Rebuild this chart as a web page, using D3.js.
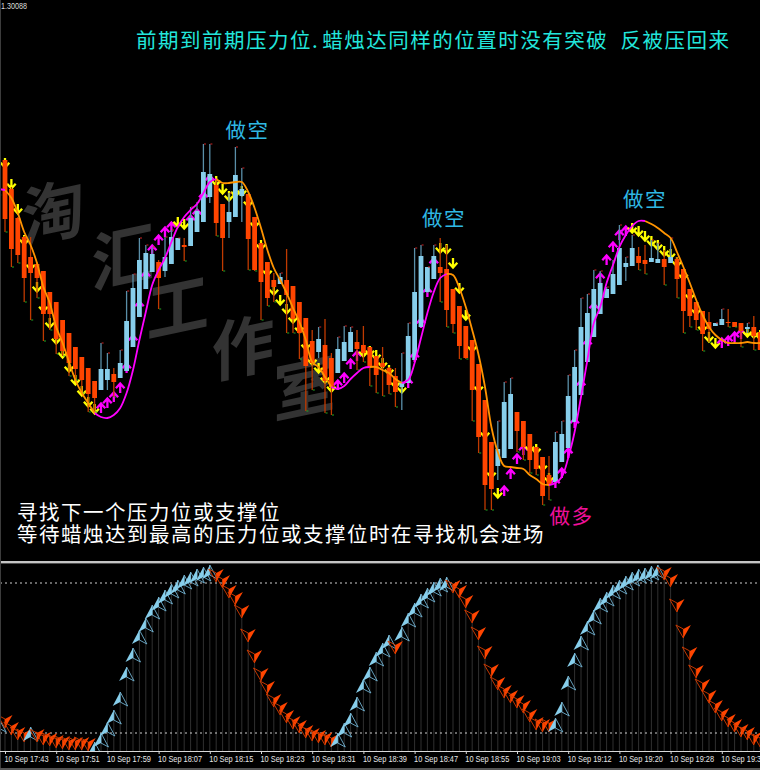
<!DOCTYPE html>
<html><head><meta charset="utf-8">
<script src="https://cdnjs.cloudflare.com/ajax/libs/d3/7.8.5/d3.min.js"></script>
<style>html,body{margin:0;padding:0;background:#000}svg{display:block}</style>
</head><body><svg id="c" width="760" height="770"></svg>
<script>
// Prices are points above 1.29000; bars run from -1 (cut by the left edge) to 118.
const firstBar = -1;
const opens = [950,933,904,875,856,836,829,822,801,791,773,760,746,736,725,712,703,713,719,715,722,746,776,804,821,831,822,829,843,848,847,861,871,896,908,889,871,876,897,899,876,850,831,813,809,813,807,791,775,752,741,748,735,720,732,741,751,748,746,737,730,725,717,706,710,733,766,801,814,826,824,804,787,767,753,729,693,651,627,635,644,681,672,659,646,636,618,611,631,645,671,698,731,756,779,795,799,808,826,827,837,833,831,830,834,830,834,824,804,791,782,771,767,768,771,771,770,764,766,761];
const closes = [913,874,844,838,815,820,815,779,779,754,742,730,724,713,699,695,724,724,711,730,772,805,833,840,839,815,836,856,855,846,875,882,921,919,870,855,881,918,904,854,823,811,795,806,816,798,774,760,727,730,754,712,706,744,751,761,744,740,726,718,726,708,701,711,757,801,837,826,837,820,783,769,747,735,703,656,608,604,644,691,699,662,646,633,624,597,608,651,659,697,726,766,780,804,810,804,819,845,830,845,830,829,835,834,826,836,814,782,777,773,759,764,770,774,770,766,762,766,757,743];
const highs = [951,933,906,876,857,856,831,822,801,791,773,760,746,736,725,712,750,740,725,743,802,819,855,848,846,833,856,863,855,855,886,891,949,949,913,889,900,946,925,899,876,850,831,820,820,844,807,791,775,763,766,774,740,756,767,766,763,767,746,737,746,726,725,740,770,845,848,826,848,855,848,804,787,767,753,729,693,651,672,711,715,681,672,659,646,636,637,661,672,718,743,795,799,823,822,806,833,868,836,858,846,848,853,850,843,855,836,824,804,791,782,781,770,784,784,771,770,770,777,761];
const lows = [898,861,826,830,791,773,795,752,763,739,737,717,713,700,681,681,703,703,696,715,722,746,776,804,821,784,816,829,843,832,847,861,871,890,857,822,855,876,871,823,822,773,787,791,809,760,760,734,682,703,735,680,678,720,732,741,723,731,707,700,697,699,686,683,710,733,766,800,814,791,766,760,734,734,672,640,583,583,613,635,644,641,633,620,618,588,593,611,631,645,671,698,731,756,779,795,799,808,812,827,823,819,831,830,808,830,795,760,766,763,742,751,767,768,766,766,746,760,743,743];

const trendLine = [904,903,895,880,861,848,830,806,790,766,750,731,713,700,690,680,676,675,678,685,700,723,753,781,808,823,835,851,866,876,883,889,900,911,914,910,910,911,911,901,885,865,843,825,813,800,785,771,753,731,726,716,706,704,707,714,720,725,726,726,723,720,714,710,713,730,755,780,801,815,819,818,805,786,763,738,706,666,641,627,626,625,624,618,614,609,608,610,616,635,661,696,733,770,786,810,828,846,858,867,872,872,869,865,860,855,841,826,810,793,778,766,758,753,750,750,750,751,750,750];
const trendUpRuns = [[-1,0],[14,33],[51,57],[62,69],[85,100]];
const trendDownRuns = [[0,14],[33,51],[57,62],[69,85],[100,118]];

// Signal arrows start at bar 0.
const signalPrice = [930,909,884,853,828,806,786,770,754,740,726,713,702,691,684,685,690,696,705,725,753,787,817,843,853,861,866,871,869,873,879,896,913,912,904,897,901,902,891,870,848,822,803,793,784,775,765,748,733,725,715,706,708,715,729,737,741,742,738,730,723,710,705,710,736,770,801,830,845,844,830,805,778,746,706,660,620,600,602,619,634,643,646,644,627,615,610,620,640,670,708,749,785,815,833,846,858,862,865,862,857,852,848,842,839,831,818,798,783,766,756,750,750,752,756,759,761,760,758];
const signalUpRuns = [[15,26],[29,32],[52,55],[63,67],[78,81],[86,97],[112,115]];

// Oscillator, from bar -1.
const oscillator = [26,22,19.2,17.2,16.4,22.4,16.4,15.2,14.8,14,13.6,13.2,13.2,13.2,12.8,16.4,20,24.4,29.2,36.4,46.4,54,61.2,66,71.2,74.4,77.2,79.6,81.2,83.2,84.4,85.6,86.4,87.2,80.4,78,74,71.2,66,56.4,48,40.8,35.6,30.4,27.2,24,21.6,20,18,16.8,16,15.2,14.4,20,24,28,34.4,41.6,46.4,52.4,56,59.2,51.6,62.4,68,72,75.6,78,80.4,82,82.4,76,74,70,64,57.2,49.6,42.4,37.2,34,32,30,28,24.4,21.2,20.4,20.4,26,32.4,42.8,52,58.8,64.8,69.2,74,76.4,79.2,81.2,82.8,84.4,85.6,86,86.8,87.2,81.2,78.4,68.4,58,49.2,42,36.4,32,28,24.8,22.4,20.4,18.4,17.2,15.2,14.4];
const oscUpRuns = [[-1,-1],[4,4],[14,32],[52,60],[62,69],[86,102]];
const oscLevels = [80,20];

const tickBars = [0,8,16,24,32,40,48,56,64,72,80,88,96,104,112];
const tickLabels = ["10 Sep 17:43","10 Sep 17:51","10 Sep 17:59","10 Sep 18:07","10 Sep 18:15","10 Sep 18:23","10 Sep 18:31","10 Sep 18:39","10 Sep 18:47","10 Sep 18:55","10 Sep 19:03","10 Sep 19:12","10 Sep 19:20","10 Sep 19:28","10 Sep 19:36"];
const topPriceLabel = "1.30088";
const headlineParts = ["前期到前期压力位.","蜡烛达同样的位置时没有突破  反被压回来"];
const noteLines = ["寻找下一个压力位或支撑位","等待蜡烛达到最高的压力位或支撑位时在寻找机会进场"];
const shortLabels = [{bar:37.9,price:955,text:"做空"},{bar:68.6,price:867,text:"做空"},{bar:100,price:886,text:"做空"}];
const longLabels = [{bar:88.5,price:569,text:"做多"}];
const watermark = ["淘","汇","工","作","室"];
const watermarkBars = [7.5,18.4,27,37.2,46.8];
const watermarkPrice = [885,840,790,750,710];

const C = {bg:"#000",up:"#87ceeb",down:"#ff4500",upWick:"#5a8fa8",downWick:"#c03a00",rise:"#ff00ff",fall:"#ff9400",
  arrowDown:"#ffff00",arrowUp:"#ff00ff",grid:"#303030",frame:"#c4c4c4",water:"#333333"};
const CJK = '"Noto Sans CJK SC","Noto Sans",sans-serif';

const svg = d3.select("#c");
const W = 760, H = 770, mainBottom = 560, oscTop = 564, oscBottom = 751;
const inRuns = (runs,i) => runs.some(r => i>=r[0] && i<=r[1]);
const bars = d3.range(opens.length).map(k => k+firstBar);

const x = d3.scaleLinear().domain([0,118]).range([5,760.2]);
const y = d3.scaleLinear().domain([1088,533]).range([5,560]);
const yo = d3.scaleLinear().domain([20,80]).range([733,583]);

svg.append("rect").attr("width",W).attr("height",H).attr("fill",C.bg);
const defs = svg.append("defs");
defs.append("clipPath").attr("id","mainClip").append("rect").attr("x",0).attr("y",0).attr("width",W).attr("height",mainBottom);
defs.append("clipPath").attr("id","oscClip").append("rect").attr("x",0).attr("y",oscTop).attr("width",W).attr("height",oscBottom-oscTop);

// watermark
const wm = svg.append("g");
watermark.forEach((ch,k)=>{
  wm.append("text").text(ch)
    .attr("transform",`translate(${x(watermarkBars[k])},${y(watermarkPrice[k])}) rotate(-12) skewX(-12)`)
    .attr("text-anchor","middle").attr("dominant-baseline","central")
    .attr("font-family",CJK).attr("font-weight",700).attr("font-size",64).attr("fill",C.water);
});

const main = svg.append("g").attr("clip-path","url(#mainClip)");

// signal arrows sit beneath the candles
const arrowPath = "M-4.3,-0.2L0,4.6L4.3,-0.2M0,4.2L0,-5";
main.append("g").selectAll("path").data(signalPrice.map((p,k)=>({bar:k,p}))).join("path")
  .attr("d",arrowPath).attr("fill","none").attr("stroke-width",2.3)
  .attr("stroke",d=>inRuns(signalUpRuns,d.bar)?C.arrowUp:C.arrowDown)
  .attr("transform",d=>`translate(${x(d.bar)},${y(d.p)})${inRuns(signalUpRuns,d.bar)?" scale(1,-1)":""}`);

// candles
const candle = bars.map((b,k)=>({b,o:opens[k],c:closes[k],h:highs[k],l:lows[k],up:closes[k]>opens[k]}));
const cg = main.append("g");
cg.selectAll("line.w").data(candle).join("line").attr("class","w")
  .attr("x1",d=>x(d.b)).attr("x2",d=>x(d.b)).attr("y1",d=>y(d.h)).attr("y2",d=>y(d.l))
  .attr("stroke",d=>d.up?C.upWick:C.downWick).attr("stroke-width",1.3);
cg.selectAll("rect").data(candle).join("rect")
  .attr("x",d=>x(d.b)-2.4).attr("width",4.8)
  .attr("y",d=>y(Math.max(d.o,d.c))).attr("height",d=>Math.max(1,Math.abs(y(d.o)-y(d.c))))
  .attr("fill",d=>d.up?C.up:C.down);
cg.selectAll("line.m").data(candle).join("line").attr("class","m")
  .attr("x1",d=>x(d.b)+0.6).attr("x2",d=>x(d.b)+2.6)
  .attr("y1",d=>y(d.up?d.h:d.l)).attr("y2",d=>y(d.up?d.h:d.l))
  .attr("stroke",d=>d.up?"#c22":"#2a2").attr("stroke-width",1);

// trend line, one path per run
const curve = d3.line().x(d=>x(d.b)).y(d=>y(d.v)).curve(d3.curveCatmullRom.alpha(0.5));
const trend = bars.map((b,k)=>({b,v:trendLine[k]}));
const lg = main.append("g").attr("fill","none").attr("stroke-width",1.8);
const drawRuns = (runs,color) => runs.forEach(r=>{
  lg.append("path").datum(trend.filter(d=>d.b>=r[0]&&d.b<=r[1])).attr("d",curve).attr("stroke",color);
});
drawRuns(trendDownRuns,C.fall);
drawRuns(trendUpRuns,C.rise);

// texts
const tightCJK = s => s.attr("font-family",CJK).attr("font-size",20.5).attr("letter-spacing",1.5);
svg.append("text").text(topPriceLabel).attr("x",1).attr("y",9).attr("textLength",26).attr("lengthAdjust","spacingAndGlyphs")
  .attr("font-family","Liberation Sans,sans-serif").attr("font-size",9).attr("fill","#ddd");
const head = svg.append("text").attr("x",136).attr("y",48).style("white-space","pre").call(tightCJK).attr("fill","#22e6dc");
headlineParts.forEach((t,k)=>head.append("tspan").text(t).attr("dx",k?3:0));
noteLines.forEach((t,k)=>svg.append("text").text(t).attr("x",17).attr("y",[520,542][k])
  .call(tightCJK).attr("fill","#fff"));
shortLabels.forEach(d=>svg.append("text").text(d.text).attr("x",x(d.bar)).attr("y",y(d.price)).attr("text-anchor","middle")
  .call(tightCJK).attr("fill","#2fb8e4"));
longLabels.forEach(d=>svg.append("text").text(d.text).attr("x",x(d.bar)).attr("y",y(d.price)).attr("text-anchor","middle")
  .call(tightCJK).attr("fill","#f0109a"));

// oscillator pane
const osc = svg.append("g").attr("clip-path","url(#oscClip)");
const pts = bars.map((b,k)=>({b,v:oscillator[k],up:inRuns(oscUpRuns,b)}));
osc.selectAll("line.h").data(pts).join("line").attr("class","h")
  .attr("x1",d=>x(d.b)).attr("x2",d=>x(d.b)).attr("y1",d=>yo(d.v)).attr("y2",oscBottom)
  .attr("stroke",C.grid).attr("stroke-width",1);
oscLevels.forEach(v=>osc.append("line").attr("x1",0).attr("x2",W).attr("y1",yo(v)).attr("y2",yo(v))
  .attr("stroke","#cfcfcf").attr("stroke-width",1).attr("stroke-dasharray","2,3"));
const glyph = osc.selectAll("g.g").data(pts).join("g").attr("class","g")
  .attr("transform",d=>`translate(${x(d.b)},${yo(d.v)})`);
glyph.append("path").attr("d",d=>d.up?"M0,0L7.5,14L0,10Z":"M0,0L-7.5,-13L0,-9Z").attr("fill","none")
  .attr("stroke",d=>d.up?"#6fb0cf":"#d83c00").attr("stroke-width",0.9);
glyph.append("path").attr("d",d=>d.up?"M0,0L-7.5,14L0,10Z":"M0,0L7.5,-13L0,-9Z")
  .attr("fill",d=>d.up?C.up:C.down);

// frame and time axis
svg.append("rect").attr("x",0).attr("y",561).attr("width",W).attr("height",2.4).attr("fill",C.frame);
svg.append("rect").attr("x",0).attr("y",0).attr("width",1).attr("height",H).attr("fill","#3c3c3c");
svg.append("rect").attr("x",0).attr("y",768).attr("width",W).attr("height",2).attr("fill","#555");
const axis = d3.axisBottom(x).tickValues(tickBars).tickFormat((d,k)=>tickLabels[k]).tickSize(3).tickSizeOuter(0);
const ax = svg.append("g").attr("transform",`translate(0,${oscBottom})`).call(axis);
ax.select(".domain").attr("stroke","#d8d8d8").attr("d",`M0,0.5H${W}`);
ax.selectAll(".tick line").attr("stroke","#d8d8d8");
ax.selectAll(".tick text").attr("text-anchor","start").attr("x",-1).attr("y",4.5).attr("dy","0.71em")
  .attr("textLength",44).attr("lengthAdjust","spacingAndGlyphs")
  .attr("font-family","Liberation Sans,sans-serif").attr("font-size",9).attr("fill","#e6e6e6");
</script></body></html>
